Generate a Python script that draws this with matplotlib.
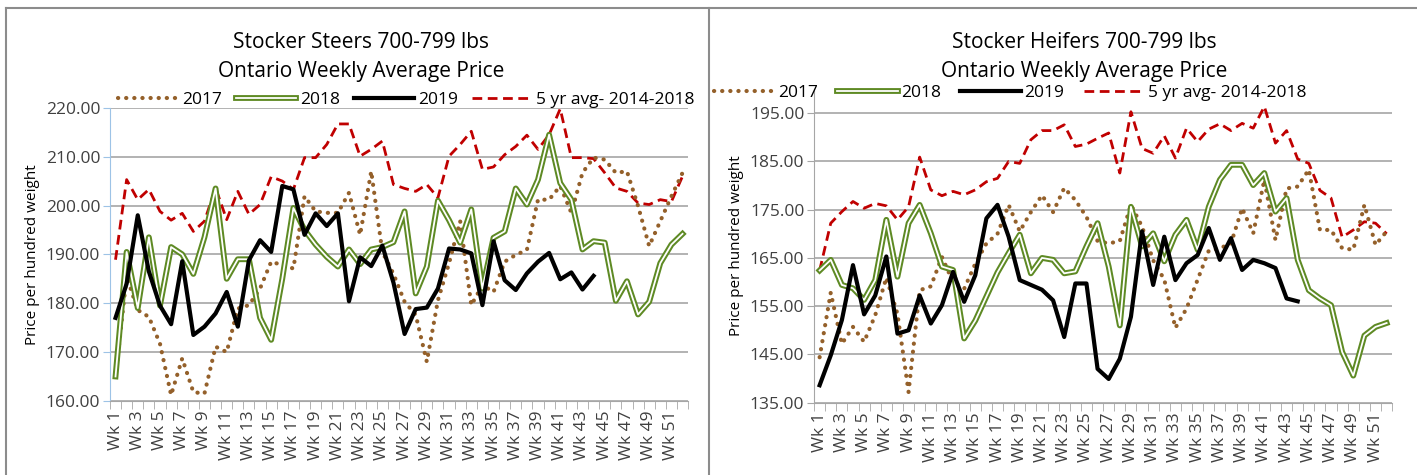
import matplotlib.pyplot as plt
from matplotlib.lines import Line2D

plt.rcParams['font.family'] = ['Open Sans', 'DejaVu Sans']

weeks = list(range(1, 53))
week_labels = ['Wk %d' % w if w % 2 == 1 else '' for w in weeks]

# ---- Stocker Steers 700-799 lbs ----
steers_2017 = [165, 185.5, 178.6, 177.2, 171.7, 161.2, 168.7, 161.8, 161.5, 171.1,
               170, 178.9, 179.6, 183, 188.5, 187.8, 187.1, 201.9, 198.8, 198.5,
               198.5, 202.6, 194, 207, 190.5, 186, 180.3, 177.6, 168, 180.6,
               188.2, 196.8, 179.6, 183.7, 182.3, 188.5, 189.9, 190.9, 201.2, 201.2,
               204, 198.5, 206.7, 209.8, 209.4, 206.7, 207, 199.9, 191.7, 196.8,
               201.9, 206.7]
steers_2018 = [165, 190.5, 179, 193.5, 179.5, 191.5, 190, 186, 193.5, 203.5,
               185, 189, 189, 177, 172.5, 185, 199.5, 195, 192, 189.5,
               187.5, 191, 188, 191, 191.5, 192.5, 198.8, 182, 187.5, 201,
               197, 192.4, 199.2, 183, 193.4, 194.7, 203.5, 200.2, 205.3, 214.5,
               204.6, 201.2, 191, 192.7, 192.4, 180.5, 184.5, 177.7, 180.3, 188.2,
               192, 194.2]
steers_2019 = [177, 184, 198, 186.5, 179.5, 175.7, 188.6, 173.5, 175.2, 177.9,
               182.3, 175.2, 188.8, 192.9, 190.5, 204, 203.3, 194, 198.4, 195.8,
               198.4, 180.4, 189.4, 187.6, 191.8, 184.2, 173.7, 178.8, 179.1, 183,
               191.2, 191, 190.2, 179.6, 192.7, 184.7, 182.7, 186.1, 188.5, 190.3,
               184.9, 186.3, 182.8, 185.6]
steers_avg = [188.9, 205.3, 201.2, 203.3, 198.8, 197, 198.4, 194.7, 196.8, 203.6,
              197.1, 202.9, 198.2, 200.2, 205.9, 205, 203.3, 209.8, 209.8, 212.5,
              216.7, 216.7, 210.1, 211.5, 213.2, 204.3, 203.5, 202.9, 204.3, 201.6,
              210.1, 212.5, 215.2, 207.4, 207.9, 210.4, 212.1, 214.4, 211.5, 214.5,
              219.8, 209.8, 209.8, 209.6, 206.7, 203.6, 202.9, 200.5, 200.2, 201.2,
              200.8, 206]

# ---- Stocker Heifers 700-799 lbs ----
heifers_2017 = [144.4, 157.8, 147.2, 150.7, 147.6, 153.1, 160.9, 153.4, 137.2, 158.3,
                159.1, 165.2, 160, 158.6, 163.8, 168, 170, 176, 170.5, 174.5,
                178, 174.5, 179.5, 177, 173.5, 168.5, 168, 168.5, 176, 171.5,
                164.5, 160.5, 150.5, 154.5, 160.5, 166.5, 167, 168, 175.3, 170.1,
                181.2, 168.7, 179.4, 179.8, 183.3, 170.8, 170.8, 167, 166.7, 176,
                167.7, 170.5]
heifers_2018 = [162.4, 164.6, 159.4, 158.7, 156.3, 160.4, 172.9, 161.1, 172.2, 176,
                170.1, 163.2, 162.5, 148.3, 152, 157, 162, 166, 169.8, 161.8,
                165, 164.6, 161.8, 162.2, 167.4, 172.2, 163.2, 151, 175.6, 167.4,
                170.1, 164.3, 169.8, 172.9, 166.7, 175.6, 181.2, 184.3, 184.3, 180.1,
                182.6, 174.6, 177.4, 164.6, 158.3, 156.6, 155.2, 145.5, 140.6, 148.9,
                150.7, 151.5]
heifers_2019 = [138.6, 144.8, 152.1, 163.5, 153.3, 157.2, 165.3, 149.3, 150, 157.2,
                151.4, 155.2, 162.1, 155.9, 161.4, 173.2, 176, 169.4, 160.4, 159.4,
                158.4, 156.2, 148.6, 159.7, 159.7, 142, 139.9, 144.1, 152.8, 170.5,
                159.4, 169.4, 160.4, 163.9, 165.6, 171.2, 164.6, 169.1, 162.5, 164.6,
                163.9, 162.9, 156.6, 156]
heifers_avg = [162.4, 172.2, 174.6, 176.7, 175.3, 176.3, 175.8, 172.9, 175.6, 185.9,
               179.1, 177.9, 178.8, 178.1, 179.1, 180.8, 181.5, 185, 184.6, 189.5,
               191.4, 191.4, 192.6, 188.1, 188.6, 189.8, 190.9, 182.6, 195.3, 187.7,
               186.7, 190.3, 185.7, 191.9, 189.1, 191.7, 192.8, 191.4, 192.9, 191.9,
               196.4, 188.8, 191.4, 185.5, 184.6, 179, 177.4, 169.3, 170.8, 172.5,
               172.2, 170]

BROWN = '#94602a'
GREEN = '#5e8a24'
RED = '#c00000'
DOTS = (0, (0.05, 1.9))
DASH = (0, (3.5, 2))


def draw_panel(ax, title, title_x, s17, s18, s19, savg, ylo, yhi, yticks, ycolor,
               leg_xy, colspace):
    x17 = weeks[:len(s17)]
    x18 = weeks[:len(s18)]
    x19 = weeks[:len(s19)]
    xav = weeks[:len(savg)]
    ax.plot(x17, s17, color=BROWN, lw=3, linestyle=DOTS,
            dash_capstyle='round', zorder=3)
    ax.plot(x18, s18, color=GREEN, lw=4.2, zorder=4)
    ax.plot(x18, s18, color='white', lw=1.3, zorder=5)
    ax.plot(x19, s19, color='black', lw=3, zorder=6)
    ax.plot(xav, savg, color=RED, lw=2, linestyle=DASH, zorder=2)

    ax.set_xlim(0.5, 52.5)
    ax.set_ylim(ylo, yhi)
    ax.set_yticks(yticks)
    ax.set_yticklabels(['%.2f' % t for t in yticks], fontsize=12.5, color='#404040')
    ax.yaxis.grid(True, color='#a6a6a6', lw=1.2)
    ax.set_axisbelow(True)

    ax.set_xticks([w + 0.5 for w in range(0, 53)], minor=True)
    ax.set_xticks(weeks)
    ax.set_xticklabels(week_labels, rotation=90, fontsize=12.5, color='#404040')
    ax.tick_params(axis='x', which='major', length=0, pad=7)
    ax.tick_params(axis='x', which='minor', length=6, color='#a6a6a6')
    ax.tick_params(axis='y', length=5, color=ycolor, pad=2)

    for side in ['top', 'right']:
        ax.spines[side].set_visible(False)
    ax.spines['left'].set_color(ycolor)
    ax.spines['bottom'].set_color('#a6a6a6')
    ax.set_ylabel('Price per hundred weight', fontsize=11, labelpad=4)

    line1, line2 = title.split('\n')
    fig.text(title_x, 1 - 42 / 475, line1, fontsize=15, ha='center', va='center')
    fig.text(title_x, 1 - 72 / 475, line2, fontsize=15, ha='center', va='center')

    h17 = Line2D([], [], color=BROWN, lw=3, linestyle=DOTS, dash_capstyle='round')
    h18 = (Line2D([], [], color=GREEN, lw=4.2), Line2D([], [], color='white', lw=1.3))
    h19 = Line2D([], [], color='black', lw=3)
    hav = Line2D([], [], color=RED, lw=2, linestyle=DASH)
    fig.legend([h17, h18, h19, hav], ['2017', '2018', '2019', '5 yr avg- 2014-2018'],
               loc='center', bbox_to_anchor=leg_xy, ncol=4, frameon=False,
               fontsize=12.5, handlelength=3.5, handletextpad=0.2,
               columnspacing=colspace)


fig = plt.figure(figsize=(14.17, 4.75), dpi=100)
ax1 = fig.add_axes([0.0776, 0.156, 0.408, 0.617])
ax2 = fig.add_axes([0.5745, 0.1524, 0.408, 0.660])

draw_panel(ax1, 'Stocker Steers 700-799 lbs\nOntario Weekly Average Price', 361 / 1417,
           steers_2017, steers_2018, steers_2019, steers_avg,
           160, 220, [160, 170, 180, 190, 200, 210, 220], '#9dc3e6',
           (406 / 1417, 1 - 100 / 475), 0.8)
draw_panel(ax2, 'Stocker Heifers 700-799 lbs\nOntario Weekly Average Price', 1084 / 1417,
           heifers_2017, heifers_2018, heifers_2019, heifers_avg,
           135, 200, [135, 145, 155, 165, 175, 185, 195], '#a6a6a6',
           (1010 / 1417, 1 - 93 / 475), 1.1)

# panel frames
frame = dict(color='#8c8c8c', lw=1.5, transform=fig.transFigure)
fig.add_artist(Line2D([6 / 1417, 1], [1 - 8 / 475, 1 - 8 / 475], **frame))
fig.add_artist(Line2D([6 / 1417, 6 / 1417], [0, 1 - 8 / 475], **frame))
fig.add_artist(Line2D([709 / 1417, 709 / 1417], [0, 1 - 8 / 475], **frame))

fig.savefig('out.png', dpi=100)
